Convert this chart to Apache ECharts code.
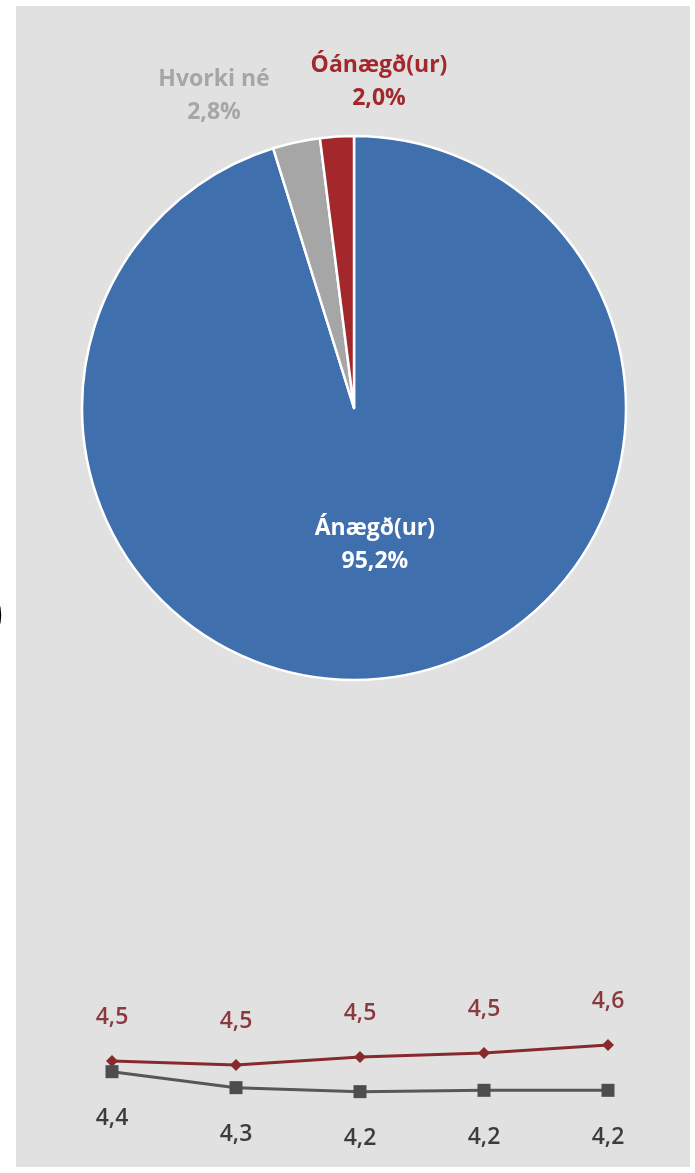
<!DOCTYPE html>
<html>
<head>
<meta charset="utf-8">
<script src="https://cdn.jsdelivr.net/npm/echarts@6/dist/echarts.min.js"></script>
<style>
  html, body { margin: 0; padding: 0; background: #ffffff; }
  #chart { width: 695px; height: 1173px; }
</style>
</head>
<body>
<div id="chart"></div>
<script>
// ---- Data ----
const pieNames = ['Ánægð(ur)', 'Hvorki né', 'Óánægð(ur)'];
const pieValues = [95.2, 2.8, 2.0];

const lineCategories = ['1', '2', '3', '4', '5'];
const redValues = [4.49, 4.47, 4.51, 4.53, 4.57];
const grayValues = [4.38, 4.26, 4.23, 4.24, 4.24];

// ---- Styles ----
const sliceColors = ['#3F6FAD', '#A6A6A6', '#A3282B'];
const sliceLabelColors = ['#ffffff', '#A6A6A6', '#A3282B'];
const FONT = '"Open Sans", Lato, sans-serif';

const fmtComma = v => v.toFixed(1).replace('.', ',');

const chart = echarts.init(document.getElementById('chart'), null, { renderer: 'canvas' });

const pieData = pieNames.map((n, i) => ({
  name: n,
  value: pieValues[i],
  itemStyle: { color: sliceColors[i] },
  label: {
    color: sliceLabelColors[i],
    position: i === 0 ? 'inside' : 'outside'
  }
}));

const outsideLabelPos = {
  1: { x: 214, y: 96 },
  2: { x: 379, y: 82 }
};

chart.setOption({
  animation: false,
  backgroundColor: '#ffffff',
  graphic: [
    {
      type: 'rect',
      z: -10,
      silent: true,
      shape: { x: 16, y: 6, width: 674, height: 1161 },
      style: { fill: '#E1E1E1' }
    },
    {
      type: 'text',
      z: 10,
      silent: true,
      left: -17,
      top: 588,
      style: { text: ')', font: '60px "DejaVu Sans"', fill: '#000000' }
    }
  ],
  grid: { left: 112, right: 87, top: 1000, bottom: 33 },
  xAxis: {
    type: 'category',
    data: lineCategories,
    boundaryGap: false,
    show: false
  },
  yAxis: [
    { type: 'value', min: 4.095, max: 4.795, show: false },
    { type: 'value', min: 3.8665, max: 4.919, show: false }
  ],
  series: [
    {
      type: 'pie',
      center: [354, 408],
      radius: 272,
      startAngle: 90,
      clockwise: true,
      data: pieData,
      itemStyle: { borderColor: '#ffffff', borderWidth: 2.5 },
      label: {
        fontFamily: FONT,
        fontWeight: 'bold',
        fontSize: 23,
        lineHeight: 33,
        align: 'center',
        formatter: p => p.name + '\n' + fmtComma(p.value) + '%'
      },
      labelLine: { show: false },
      labelLayout: function (params) {
        const pos = outsideLabelPos[params.dataIndex];
        if (pos) {
          return { x: pos.x, y: pos.y, align: 'center', verticalAlign: 'middle' };
        }
        return {};
      }
    },
    {
      type: 'line',
      yAxisIndex: 0,
      data: redValues,
      symbol: 'diamond',
      symbolSize: 12,
      lineStyle: { color: '#862A2E', width: 3 },
      itemStyle: { color: '#862A2E' },
      label: {
        show: true,
        position: 'top',
        distance: 26,
        fontFamily: FONT,
        fontWeight: 600,
        fontSize: 23,
        color: '#8A3A3E',
        formatter: p => fmtComma(p.value)
      }
    },
    {
      type: 'line',
      yAxisIndex: 1,
      data: grayValues,
      symbol: 'rect',
      symbolSize: 13,
      lineStyle: { color: '#575757', width: 3 },
      itemStyle: { color: '#4D4D4D' },
      label: {
        show: true,
        position: 'bottom',
        distance: 29,
        fontFamily: FONT,
        fontWeight: 600,
        fontSize: 23,
        color: '#3C3C3C',
        formatter: p => fmtComma(p.value)
      }
    }
  ]
});
</script>
</body>
</html>
